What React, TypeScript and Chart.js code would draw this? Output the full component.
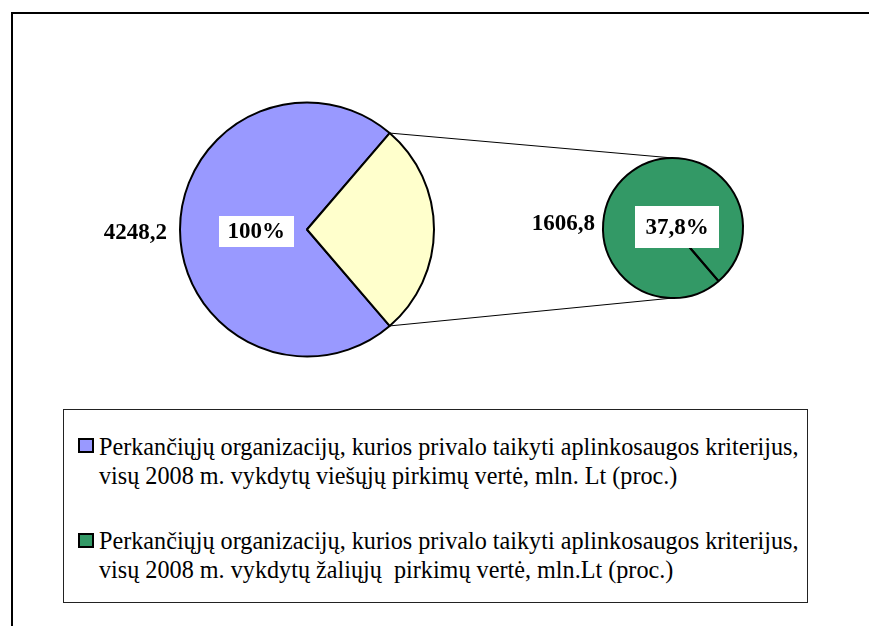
import React, { useEffect, useRef } from "react";
import { Chart, registerables } from "chart.js";

Chart.register(...registerables);

// ---- data ----
const primaryCategories = ["Viešieji pirkimai", "Žalieji pirkimai"];
const primaryValues = [4248.2, 1606.8]; // blue slice, and the slice carried over to the second pie
const secondaryCategories = ["Žalieji pirkimai"];
const secondaryValues = [1606.8];
const legendLines: string[][] = [
  [
    "Perkančiųjų organizacijų, kurios privalo taikyti aplinkosaugos kriterijus,",
    "visų 2008 m. vykdytų viešųjų pirkimų vertė, mln. Lt (proc.)",
  ],
  [
    "Perkančiųjų organizacijų, kurios privalo taikyti aplinkosaugos kriterijus,",
    "visų 2008 m. vykdytų žaliųjų  pirkimų vertė, mln.Lt (proc.)",
  ],
];

// ---- styles ----
const BLUE = "#9999FF";
const YELLOW = "#FFFFCC";
const GREEN = "#339966";
const SERIF = '"Liberation Serif", "Times New Roman", serif';
const LABEL_FONT = `bold 23px ${SERIF}`;

const fmtNum = (v: number) => String(v).replace(".", ",");
const fmtPct = (v: number) => {
  const p = Math.round((v / primaryValues[0]) * 1000) / 10;
  return (Number.isInteger(p) ? String(p) : p.toFixed(1)).replace(".", ",") + "%";
};

function drawBoxLabel(ctx: CanvasRenderingContext2D, text: string, cx: number, cy: number, w: number, h: number) {
  ctx.save();
  ctx.fillStyle = "#FFFFFF";
  ctx.fillRect(Math.round(cx - w / 2), Math.round(cy - h / 2), w, h);
  ctx.font = LABEL_FONT;
  ctx.fillStyle = "#000";
  ctx.textAlign = "center";
  ctx.textBaseline = "middle";
  ctx.fillText(text, cx, cy + 1);
  ctx.restore();
}

export default function App() {
  const bigRef = useRef<HTMLCanvasElement>(null);
  const smallRef = useRef<HTMLCanvasElement>(null);

  useEffect(() => {
    const half = (180 * primaryValues[1]) / (primaryValues[0] + primaryValues[1]);
    const rotation = half + 90;

    const bigLabels = {
      id: "bigLabels",
      afterDatasetsDraw(chart: any) {
        const ctx = chart.ctx as CanvasRenderingContext2D;
        const arc = chart.getDatasetMeta(0).data[0] as any;
        const { x, y, outerRadius } = arc;
        ctx.save();
        ctx.font = LABEL_FONT;
        ctx.fillStyle = "#000";
        ctx.textAlign = "right";
        ctx.textBaseline = "middle";
        ctx.fillText(fmtNum(primaryValues[0]), x - outerRadius - 13, y + 4);
        ctx.restore();
        drawBoxLabel(ctx, fmtPct(primaryValues[0]), x - outerRadius * 0.4, y + 2, 75, 31);
      },
    };

    const big = new Chart(bigRef.current!, {
      type: "pie",
      data: {
        labels: primaryCategories,
        datasets: [
          {
            data: primaryValues,
            backgroundColor: [BLUE, YELLOW],
            borderColor: "#000",
            borderWidth: 2,
            radius: 127,
          } as any,
        ],
      },
      options: {
        animation: false,
        responsive: false,
        events: [],
        rotation,
        layout: { padding: { left: 179, right: 434, top: 101, bottom: 42 } },
        plugins: { legend: { display: false }, tooltip: { enabled: false } },
      },
      plugins: [bigLabels],
    });

    const smallLabels = {
      id: "smallLabels",
      beforeDatasetsDraw(chart: any) {
        const ctx = chart.ctx as CanvasRenderingContext2D;
        const small = chart.getDatasetMeta(0).data[0] as any;
        const other = big.getDatasetMeta(0).data[1] as any;
        if (!other) return;
        const R = other.outerRadius;
        const p1 = [other.x + R * Math.cos(other.startAngle), other.y + R * Math.sin(other.startAngle)];
        const p2 = [other.x + R * Math.cos(other.endAngle), other.y + R * Math.sin(other.endAngle)];
        ctx.save();
        ctx.strokeStyle = "#000";
        ctx.lineWidth = 1;
        ctx.beginPath();
        ctx.moveTo(p1[0], p1[1]);
        ctx.lineTo(small.x, small.y - small.outerRadius);
        ctx.moveTo(p2[0], p2[1]);
        ctx.lineTo(small.x, small.y + small.outerRadius);
        ctx.stroke();
        ctx.restore();
      },
      afterDatasetsDraw(chart: any) {
        const ctx = chart.ctx as CanvasRenderingContext2D;
        const arc = chart.getDatasetMeta(0).data[0] as any;
        const { x, y, outerRadius, startAngle } = arc;
        ctx.save();
        ctx.strokeStyle = "#000";
        ctx.lineWidth = 2;
        ctx.beginPath();
        ctx.moveTo(x, y);
        ctx.lineTo(x + outerRadius * Math.cos(startAngle), y + outerRadius * Math.sin(startAngle));
        ctx.stroke();
        ctx.font = LABEL_FONT;
        ctx.fillStyle = "#000";
        ctx.textAlign = "right";
        ctx.textBaseline = "middle";
        ctx.fillText(fmtNum(secondaryValues[0]), x - outerRadius - 8, y - 4);
        ctx.restore();
        drawBoxLabel(ctx, fmtPct(secondaryValues[0]), x + 4, y - 1, 84, 42);
      },
    };

    const small = new Chart(smallRef.current!, {
      type: "pie",
      data: {
        labels: secondaryCategories,
        datasets: [
          {
            data: secondaryValues,
            backgroundColor: [GREEN],
            borderColor: "#000",
            borderWidth: 2,
            radius: 70,
          } as any,
        ],
      },
      options: {
        animation: false,
        responsive: false,
        events: [],
        rotation,
        layout: { padding: { left: 602, right: 125, top: 157, bottom: 101 } },
        plugins: { legend: { display: false }, tooltip: { enabled: false } },
      },
      plugins: [smallLabels],
    });

    return () => {
      small.destroy();
      big.destroy();
    };
  }, []);

  const markerColors = [BLUE, GREEN];
  const markerTops = [438, 533];
  const textTops = [432, 526];

  return (
    <div
      style={{
        position: "fixed",
        left: 0,
        top: 0,
        width: 869,
        height: 626,
        overflow: "hidden",
        background: "#fff",
        fontFamily: SERIF,
      }}
    >
      <div
        style={{
          position: "absolute",
          left: 11,
          top: 12,
          width: 1000,
          height: 1000,
          borderLeft: "2px solid #000",
          borderTop: "2px solid #000",
        }}
      />
      <canvas ref={bigRef} width={869} height={400} style={{ position: "absolute", left: 0, top: 0 }} />
      <canvas ref={smallRef} width={869} height={400} style={{ position: "absolute", left: 0, top: 0 }} />
      <div
        style={{
          position: "absolute",
          left: 63,
          top: 409,
          width: 743,
          height: 192,
          border: "1px solid #222",
        }}
      />
      {legendLines.map((lines, i) => (
        <React.Fragment key={i}>
          <div
            style={{
              position: "absolute",
              left: 78,
              top: markerTops[i],
              width: 12,
              height: 11,
              border: "2px solid #000",
              background: markerColors[i],
            }}
          />
          <div
            style={{
              position: "absolute",
              left: 99,
              top: textTops[i],
              fontSize: 24.2,
              lineHeight: "29px",
              whiteSpace: "pre",
              color: "#000",
            }}
          >
            {lines.map((l, j) => (
              <div key={j}>{l}</div>
            ))}
          </div>
        </React.Fragment>
      ))}
    </div>
  );
}
